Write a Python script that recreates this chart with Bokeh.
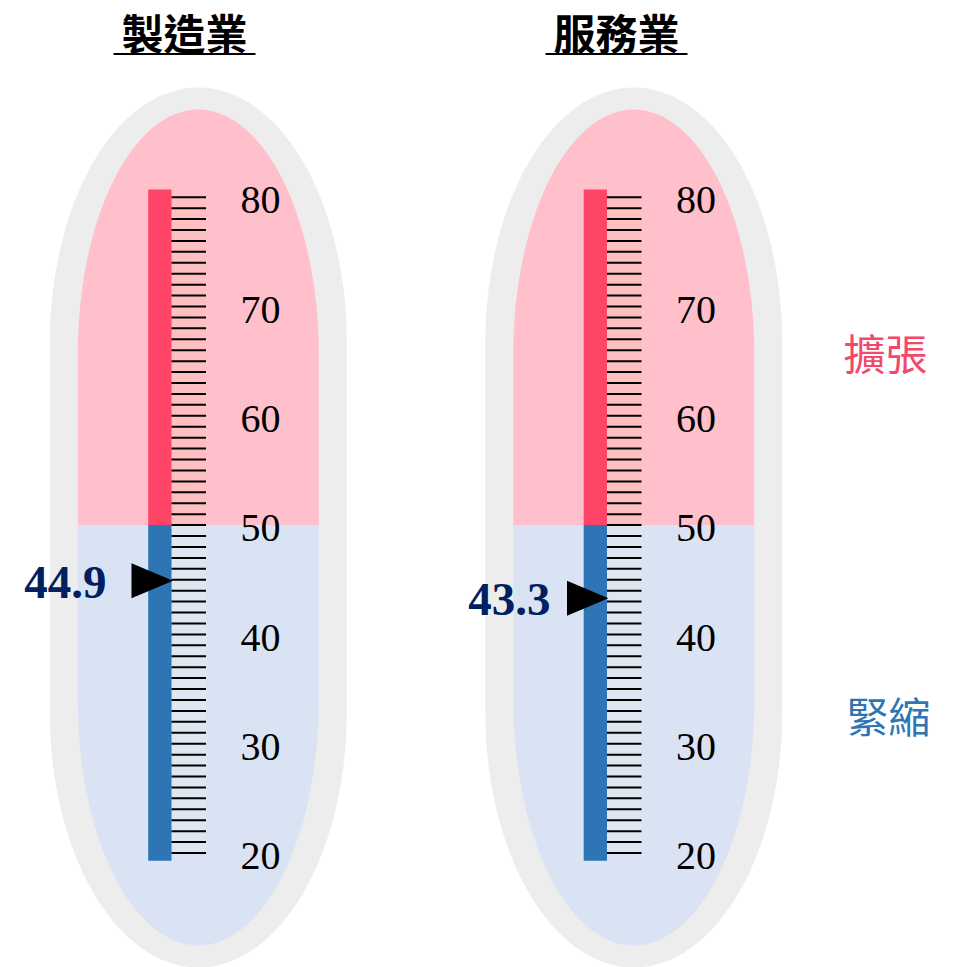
import numpy as np
from bokeh.plotting import figure
from bokeh.models import Range1d
from bokeh.embed import file_html
from bokeh.resources import INLINE
from bokeh.core.properties import value

# ---------------- data ----------------
panels = ["製造業", "服務業"]
readings = [44.9, 43.3]
label_ticks = [20, 30, 40, 50, 60, 70, 80]
minor_ticks = list(range(20, 81))
threshold = 50
scale_min, scale_max = 20, 80
zone_labels = ["擴張", "緊縮"]

# ---------------- layout ----------------
W, H = 954, 967
PX_PER_UNIT = 10.93
Y0_PX = 524.6          # pixel row of value 50
y_end = threshold + Y0_PX / PX_PER_UNIT
y_start = threshold - (H - Y0_PX) / PX_PER_UNIT


def py(v_px):
    """convert a pixel row to value units (for layout items only)"""
    return threshold + (Y0_PX - v_px) / PX_PER_UNIT


panel_dx = [0.0, 435.5]
value_label_right = [106, 550]
title_cx = [184, 616]

p = figure(width=W, height=H, x_range=Range1d(0, W), y_range=Range1d(y_start, y_end),
           output_backend="svg", toolbar_location=None, min_border=0,
           x_axis_type=None, y_axis_type=None)
p.grid.visible = False
p.outline_line_color = None
p.background_fill_color = "white"
p.border_fill_color = "white"


def capsule(cx, rx, half_h_px, ry_px):
    """closed outline of a capsule centred on value 50"""
    top = Y0_PX + 2.4 - half_h_px
    bot = Y0_PX + 2.4 + half_h_px
    t = np.linspace(np.pi, 0, 60)
    xs_top = cx + rx * np.cos(t)
    ys_top = (top + ry_px) - ry_px * np.sin(t)
    t2 = np.linspace(0, -np.pi, 60)
    xs_bot = cx + rx * np.cos(t2)
    ys_bot = (bot - ry_px) - ry_px * np.sin(t2)
    xs = np.concatenate([xs_top, xs_bot])
    ys = np.concatenate([ys_top, ys_bot])
    return xs, ys


bar_l, bar_r = 147.7, 171.0
tick_l, tick_r = 171.0, 205.5
label_cx = 260.0

for i, name in enumerate(panels):
    dx = panel_dx[i]
    cx = 197.8 + dx
    # outer grey capsule
    xs, ys = capsule(cx, 148.5, 440, 255)
    p.patch(xs, [py(v) for v in ys], fill_color="#ededed", line_color=None)
    # inner capsule split at threshold
    xs, ys = capsule(cx, 120.5, 418, 245)
    yv = np.array([py(v) for v in ys])
    up = np.clip(yv, threshold, None)
    dn = np.clip(yv, None, threshold)
    p.patch(xs, up, fill_color="#ffc0cb", line_color=None)
    p.patch(xs, dn, fill_color="#dae3f3", line_color=None)

    # tick background
    p.quad(left=[tick_l + dx], right=[tick_r + dx], bottom=[threshold], top=[scale_max],
           fill_color="#ffbfc1", line_color=None)
    p.quad(left=[tick_l + dx], right=[tick_r + dx], bottom=[scale_min], top=[threshold],
           fill_color="#dee6f1", line_color=None)

    # bar
    pad = 0.7
    p.quad(left=[bar_l + dx], right=[bar_r + dx], bottom=[threshold], top=[scale_max + pad],
           fill_color="#ff4567", line_color=None)
    p.quad(left=[bar_l + dx], right=[bar_r + dx], bottom=[scale_min - pad], top=[threshold],
           fill_color="#2e75b6", line_color=None)

    # minor ticks
    p.segment(x0=[tick_l + dx] * len(minor_ticks), x1=[tick_r + dx] * len(minor_ticks),
              y0=minor_ticks, y1=minor_ticks, line_color="black", line_width=2)

    # tick labels
    p.text(x=[label_cx + dx] * len(label_ticks), y=[t - 0.3 for t in label_ticks],
           text=[str(t) for t in label_ticks], text_align="center", text_baseline="middle",
           text_font=value("Liberation Serif"), text_font_size="40px", text_color="black")

    # arrow
    v = readings[i]
    half = 1.6
    p.patch([131 + dx, 131 + dx, 172.5 + dx], [v + half, v - half, v],
            fill_color="black", line_color=None)
    p.text(x=[value_label_right[i]], y=[v - 0.15], text=[f"{v:.1f}"], text_align="right",
           text_baseline="middle", text_font=value("Liberation Serif"), text_font_style="bold",
           text_font_size="47px", text_color="#002060")

    # title with underline
    p.text(x=[title_cx[i]], y=[py(31)], text=[name], text_align="center", text_baseline="middle",
           text_font=value("Noto Sans CJK TC"), text_font_style="bold", text_font_size="42px",
           text_color="black")
    p.segment(x0=[title_cx[i] - 71], x1=[title_cx[i] + 71], y0=[py(53.5)], y1=[py(53.5)],
              line_color="black", line_width=2)

# zone labels
p.text(x=[885], y=[py(351)], text=[zone_labels[0]], text_align="center", text_baseline="middle",
       text_font=value("Noto Sans CJK TC"), text_font_size="42px", text_color="#f4486b")
p.text(x=[888], y=[py(714)], text=[zone_labels[1]], text_align="center", text_baseline="middle",
       text_font=value("Noto Sans CJK TC"), text_font_size="42px", text_color="#2e75b6")

open("out.html", "w").write(file_html(p, INLINE))
